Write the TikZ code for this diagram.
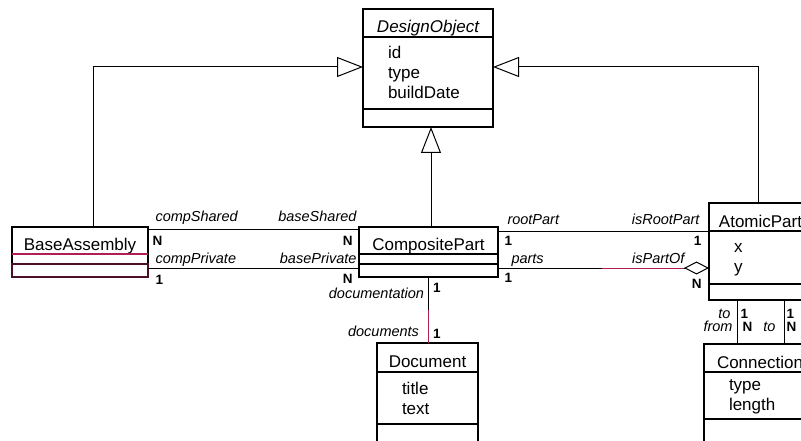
\documentclass[tikz,border=0pt]{standalone}
\usepackage{fontspec}
\setmainfont{Liberation Sans}
\usepackage{tikz}
\usetikzlibrary{arrows.meta,positioning}
\definecolor{Link}{HTML}{B01E55}
\definecolor{BaseEdge}{HTML}{4A1028}
\tikzset{
  cname/.style={draw, line width=1.5pt, outer sep=0pt, inner sep=0pt,
    text height=20pt, text depth=0pt, font=\fontsize{17}{20}\selectfont, anchor=north west},
  cattr/.style={draw, line width=1.5pt, outer sep=0pt, inner xsep=25pt, inner ysep=0pt,
    align=left, font=\fontsize{17}{20}\selectfont,
    execute at begin node={\rule{0pt}{14.5pt}},
    execute at end node={\rule[-2.5pt]{0pt}{2.5pt}}},
  cops/.style={draw, line width=1.5pt, outer sep=0pt, inner sep=0pt},
  assoc/.style={line width=1pt},
  gen/.style={assoc, -{Triangle[open, length=26pt, width=20pt]}},
  aggr/.style={assoc, -{Diamond[open, length=25pt, width=13pt]}},
  link/.style={assoc, draw=Link},
  role/.style={font=\fontsize{14.5}{16}\selectfont\itshape, inner sep=0pt},
  mult/.style={font=\fontsize{13.5}{15}\selectfont\bfseries, inner sep=0pt}
}

\begin{document}
\begin{tikzpicture}[x=1pt, y=-1pt]
  \useasboundingbox (0,0) rectangle (801,441);
  \fill[white] (0,0) rectangle (801,441);
  \clip (0,0) rectangle (801,441);

  % classes
  \node[cname, minimum width=130pt, minimum height=28pt,
    font=\fontsize{17}{20}\selectfont\itshape] (dobj) at (363,9) {DesignObject};
  \node[cattr, text width=80pt, minimum height=72pt, below=0pt of dobj] (dobjA) {id\\type\\buildDate};
  \node[cops, minimum width=130pt, minimum height=18pt, below=0pt of dobjA] (dobjO) {};

  \node[cname, minimum width=136pt, minimum height=27pt] (base) at (12,227) {BaseAssembly};
  \node[cops, minimum width=136pt, minimum height=10pt, below=0pt of base] (baseA) {};
  \node[cops, draw=BaseEdge, minimum width=136pt, minimum height=13pt, below=0pt of baseA] (baseO) {};
  \draw[line width=1.5pt, Link] (base.south west) -- (base.south east);

  \node[cname, minimum width=139pt, minimum height=27pt] (cpart) at (359,227) {CompositePart};
  \node[cops, minimum width=139pt, minimum height=10pt, below=0pt of cpart] (cpartA) {};
  \node[cops, minimum width=139pt, minimum height=13pt, below=0pt of cpartA] (cpartO) {};

  \node[cname, minimum width=103pt, minimum height=28pt] (apart) at (709,203) {AtomicPart};
  \node[cattr, text width=53pt, minimum height=53pt, below=0pt of apart] (apartA) {x\\y};
  \node[cops, minimum width=103pt, minimum height=16pt, below=0pt of apartA] (apartO) {};

  \node[cname, minimum width=101pt, minimum height=29pt] (doc) at (377,343) {Document};
  \node[cattr, text width=51pt, minimum height=52pt, below=0pt of doc] (docA) {title\\text};
  \node[cops, minimum width=101pt, minimum height=40pt, below=0pt of docA] (docO) {};

  \node[cname, minimum width=112pt, minimum height=28pt] (conn) at (704,344) {Connection};
  \node[cattr, text width=62pt, minimum height=47pt, below=0pt of conn] (connA) {type\\length};
  \node[cops, minimum width=112pt, minimum height=40pt, below=0pt of connA] (connO) {};

  % inheritance
  \draw[gen] ([xshift=13pt]base.north) |- ([yshift=6pt]dobjA.west);
  \draw[gen] ([xshift=-2.5pt]apart.north) |- ([yshift=6pt]dobjA.east);
  \draw[gen] ([xshift=2.5pt]cpart.north) -- ([xshift=2.5pt]cpart.north |- dobjO.south);

  % associations
  \draw[assoc] ([yshift=-2pt]base.north east) -- ([yshift=-2pt]cpart.north west)
    node[role, at start, anchor=base west, xshift=7pt, yshift=7pt] {compShared}
    node[role, at end, anchor=base east, xshift=-2pt, yshift=7pt] {baseShared}
    node[mult, at start, anchor=base west, xshift=4pt, yshift=-16pt] {N}
    node[mult, at end, anchor=base east, xshift=-6pt, yshift=-16pt] {N};
  \draw[assoc] ([yshift=-4pt]baseO.north east) -- ([yshift=-4pt]cpartO.north west)
    node[role, at start, anchor=base west, xshift=7pt, yshift=5pt] {compPrivate}
    node[role, at end, anchor=base east, xshift=-2pt, yshift=5pt] {basePrivate}
    node[mult, at start, anchor=base west, xshift=7pt, yshift=-16pt] {1}
    node[mult, at end, anchor=base east, xshift=-6pt, yshift=-15pt] {N};
  \draw[assoc] ([yshift=-4pt]cpart.north east) -- (apart.south west)
    node[role, at start, anchor=base west, xshift=9pt, yshift=6pt] {rootPart}
    node[role, at end, anchor=base east, xshift=-9pt, yshift=6pt] {isRootPart}
    node[mult, at start, anchor=base west, xshift=6pt, yshift=-14pt] {1}
    node[mult, at end, anchor=base east, xshift=-7pt, yshift=-14pt] {1};
  \draw[aggr] ([yshift=-4pt]cpartO.north east) -- ([yshift=-4pt]cpartO.north east -| apartA.west)
    coordinate[pos=0.493] (partsRedA) coordinate[pos=0.882] (partsRedB)
    node[role, at start, anchor=base west, xshift=13pt, yshift=5pt] {parts}
    node[role, at end, anchor=base east, xshift=-24pt, yshift=5pt] {isPartOf}
    node[mult, at start, anchor=base west, xshift=6pt, yshift=-14pt] {1}
    node[mult, at end, anchor=base east, xshift=-7pt, yshift=-20pt] {N};
  \draw[link] (partsRedA) -- (partsRedB);
  \draw[assoc] (cpartO.south) -- (cpartO.south |- doc.north)
    coordinate[pos=0.5] (docRed)
    node[role, at start, anchor=base east, xshift=-4pt, yshift=-21pt] {documentation}
    node[mult, at start, anchor=base west, xshift=4pt, yshift=-15pt] {1}
    node[role, at end, anchor=base east, xshift=-9pt, yshift=7pt] {documents}
    node[mult, at end, anchor=base west, xshift=4pt, yshift=5pt] {1};
  \draw[link] (docRed) -- (cpartO.south |- doc.north);
  \draw[assoc] ([xshift=28pt]apartO.south west) -- ([xshift=28pt]apartO.south west |- conn.north)
    node[role, at start, anchor=base east, xshift=-6pt, yshift=-18pt] {to}
    node[mult, at start, anchor=base west, xshift=3pt, yshift=-18pt] {1}
    node[role, at end, anchor=base east, xshift=-4pt, yshift=13pt] {from}
    node[mult, at end, anchor=base west, xshift=5pt, yshift=13pt] {N};
  \draw[assoc] ([xshift=75pt]apartO.south west) -- ([xshift=75pt]apartO.south west |- conn.north)
    node[mult, at start, anchor=base west, xshift=2pt, yshift=-18pt] {1}
    node[role, at end, anchor=base east, xshift=-8pt, yshift=13pt] {to}
    node[mult, at end, anchor=base west, xshift=2pt, yshift=13pt] {N};
\end{tikzpicture}
\end{document}
